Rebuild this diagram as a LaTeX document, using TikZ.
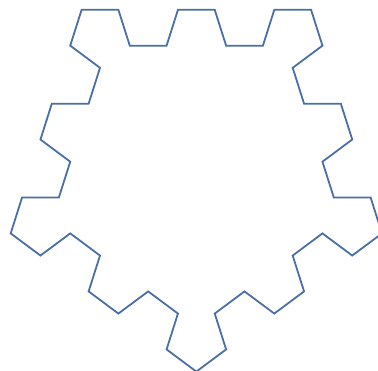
\documentclass[tikz,border=0pt]{standalone}
\definecolor{curveblue}{HTML}{4A6FA8}
\tikzset{curve/.style={draw=curveblue,line width=1.8pt,line join=miter}}
\begin{document}
\begin{tikzpicture}[x=1pt,y=-1pt]
\useasboundingbox (0,0) rectangle (378,370);
\begin{scope}[shift={(81.6,9.8)},x=36.8pt,y=37.7pt]
\draw[curve] (0,0)
  \foreach \k in {0,...,4}{
    \foreach \r in {0,-72,0,72,0,-72,0,72,0}{
      -- ++({\r-72*\k}:1)
    }
  } -- cycle;
\end{scope}
\end{tikzpicture}
\end{document}
